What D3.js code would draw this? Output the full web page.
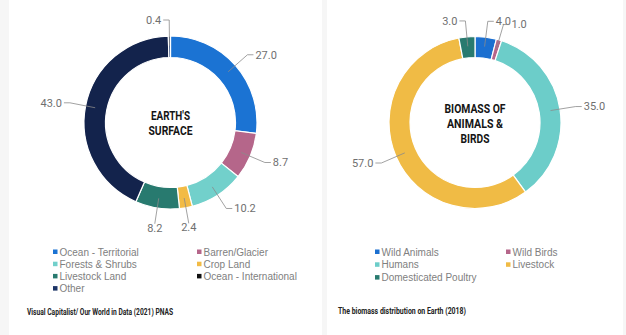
<!DOCTYPE html>
<html><head><meta charset="utf-8">
<script src="https://cdn.jsdelivr.net/npm/d3@7/dist/d3.min.js"></script>
<style>
html,body{margin:0;padding:0;background:#f6f6f6;}
svg{display:block;}
</style></head>
<body>
<svg id="c" width="626" height="335"></svg>
<script>
// ---- data ----
const surfaceCategories = ["Ocean - Territorial","Barren/Glacier","Forests & Shrubs","Crop Land","Livestock Land","Ocean - International","Other"];
const surfaceValues = [27.0, 8.7, 10.2, 2.4, 8.2, 43.0, 0.4];
const surfaceColors = ["#1b73d3","#b5668a","#72d0cb","#f2bb45","#287a6f","#13234c","#1c3466"];
const surfaceLegendColors = ["#1b73d3","#b5668a","#72d0cb","#f2bb45","#287a6f","#111111","#1c3466"];
const surfaceTitle = ["EARTH'S","SURFACE"];
const surfaceSource = "Visual Capitalist/ Our World in Data (2021) PNAS";

const biomassCategories = ["Wild Animals","Wild Birds","Humans","Livestock","Domesticated Poultry"];
const biomassValues = [4.0, 1.0, 35.0, 57.0, 3.0];
const biomassColors = ["#1b6fd0","#b5668a","#6ccdc9","#f0bb45","#287a6f"];
const biomassTitle = ["BIOMASS OF","ANIMALS &","BIRDS"];
const biomassSource = "The biomass distribution on Earth (2018)";

const svg = d3.select("#c");
// panels
svg.append("rect").attr("x",9).attr("y",0).attr("width",313).attr("height",335).attr("fill","#fff");
svg.append("rect").attr("x",327).attr("y",0).attr("width",296).attr("height",335).attr("fill","#fff");

const numFont = "'Liberation Sans Narrow','Roboto',sans-serif";
const legFont = "'Liberation Sans','Roboto',sans-serif";

function donut(cfg){
  const g = svg.append("g").attr("transform",`translate(${cfg.cx},${cfg.cy})`);
  const pie = d3.pie().sort(null).value(d=>d.v);
  const data = cfg.cats.map((c,i)=>({c, v:cfg.vals[i], col:cfg.colors[i]}));
  const arcs = pie(data);
  const arc = d3.arc().innerRadius(cfg.ri).outerRadius(cfg.ro);
  g.selectAll("path.s").data(arcs).join("path").attr("class","s")
    .attr("d",arc).attr("fill",d=>d.data.col)
    .attr("stroke","#fff").attr("stroke-width",1.2);
  // labels
  const rIn = (cfg.ri+cfg.ro)/2 + 1, rEl = cfg.ro + 16;
  arcs.forEach(a=>{
    const m = (a.startAngle+a.endAngle)/2;
    const s = Math.sin(m), c = -Math.cos(m);
    const p1=[rIn*s, rIn*c], p2=[rEl*s, rEl*c];
    let pts, tx, ty, anchor;
    if (Math.abs(s) < 0.2 && c > 0) { // bottom: text centered below
      pts=[p1,p2]; tx=p2[0]; ty=p2[1]+8; anchor="middle";
    } else {
      const dir = s>=0?1:-1;
      const p3=[p2[0]+dir*6, p2[1]];
      pts=[p1,p2,p3]; tx=p3[0]+dir*2; ty=p3[1]+3.8; anchor=dir>0?"start":"end";
    }
    g.append("polyline").attr("points",pts.map(p=>p.join(",")).join(" "))
      .attr("fill","none").attr("stroke","#8a8a8a").attr("stroke-width",0.8);
    g.append("text").attr("x",tx).attr("y",ty).attr("text-anchor",anchor)
      .attr("font-family",numFont).attr("font-size",11).attr("fill","#6f6f6f")
      .text(d3.format(".1f")(a.data.v));
  });
  // title
  const lh = cfg.titleLH, n = cfg.title.length;
  cfg.title.forEach((t,i)=>{
    g.append("text").attr("x",0).attr("y",(i-(n-1)/2)*lh + 5)
      .attr("text-anchor","middle").attr("font-family",numFont).attr("font-weight","bold")
      .attr("font-size",12.5).attr("fill","#151515")
      .attr("textLength",cfg.titleW[i]).attr("lengthAdjust","spacingAndGlyphs")
      .text(t);
  });
  // legend
  const lg = svg.append("g");
  data.forEach((d,i)=>{
    const col = i%2, row = Math.floor(i/2);
    const x = cfg.legX[col], y = cfg.legY + row*cfg.legDY;
    lg.append("rect").attr("x",x).attr("y",y-2.5).attr("width",4.5).attr("height",4.5).attr("fill",cfg.legColors[i]);
    lg.append("text").attr("x",x+6.5).attr("y",y+3.5).attr("font-family",legFont)
      .attr("font-size",10).attr("fill","#808080").text(d.c);
  });
  svg.append("text").attr("x",cfg.srcX).attr("y",cfg.srcY).attr("font-family",numFont)
    .attr("font-size",8.5).attr("fill","#222").attr("font-weight","bold")
    .attr("textLength",cfg.srcW).attr("lengthAdjust","spacingAndGlyphs").text(cfg.src);
}

donut({cx:170.5, cy:122.5, ro:86.5, ri:65, cats:surfaceCategories, vals:surfaceValues,
  colors:surfaceColors, legColors:surfaceLegendColors, title:surfaceTitle, titleLH:14.5, titleW:[39,44],
  legX:[53,197], legY:252, legDY:12.2, src:surfaceSource, srcX:27, srcY:315, srcW:146});
donut({cx:475, cy:122.5, ro:86, ri:65, cats:biomassCategories, vals:biomassValues,
  colors:biomassColors, legColors:biomassColors, title:biomassTitle, titleLH:15, titleW:[61,56,29],
  legX:[375,506], legY:252, legDY:12.8, src:biomassSource, srcX:338, srcY:314, srcW:128});
</script>
</body></html>
